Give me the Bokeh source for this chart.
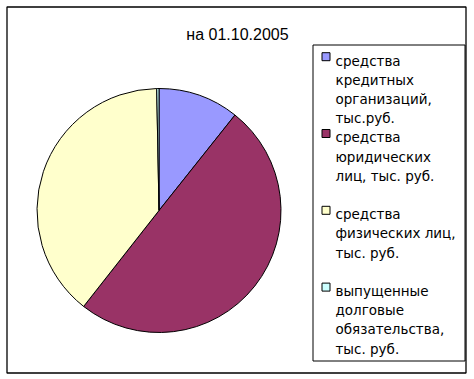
import numpy as np
from bokeh.plotting import figure
from bokeh.models import Range1d, ColumnDataSource
from bokeh.core.properties import value
from bokeh.embed import file_html
from bokeh.resources import INLINE

# ---- data ----
title = "на 01.10.2005"
categories = [
    "средства кредитных организаций, тыс.руб.",
    "средства юридических лиц, тыс. руб.",
    "средства физических лиц, тыс. руб.",
    "выпущенные долговые обязательства, тыс. руб.",
]
legend_lines = [
    ["средства", "кредитных", "организаций,", "тыс.руб."],
    ["средства", "юридических", "лиц, тыс. руб."],
    ["средства", "физических лиц,", "тыс. руб."],
    ["выпущенные", "долговые", "обязательства,", "тыс. руб."],
]
shares = [10.7, 49.9, 39.1, 0.3]
colors = ["#9999FF", "#993366", "#FFFFCC", "#CCFFFF"]

W, H = 474, 379

def Y(py):
    return H - py

p = figure(width=W, height=H, output_backend="svg", toolbar_location=None,
           x_range=Range1d(0, W), y_range=Range1d(0, H), min_border=0)
p.axis.visible = False
p.grid.visible = False
p.outline_line_color = None
p.background_fill_color = "white"
p.border_fill_color = "white"

# outer chart border
p.quad(left=[6.5], right=[465.5], top=[Y(6.5)], bottom=[Y(372.5)],
       fill_alpha=0, line_color="black", line_width=1.3)

# title
p.text(x=[237], y=[Y(33.5)], text=[title], text_font=value("Liberation Sans"),
       text_font_size="16px", text_align="center", text_baseline="alphabetic",
       text_color="black")

# pie (clockwise from 12 o'clock)
vals = np.array(shares, dtype=float)
frac = vals / vals.sum()
cum = np.concatenate([[0], np.cumsum(frac)])
start = np.pi / 2 - cum[:-1] * 2 * np.pi
end = np.pi / 2 - cum[1:] * 2 * np.pi
src = ColumnDataSource(dict(start=start, end=end, color=colors, cat=categories))
p.wedge(x=158.5, y=Y(210), radius=122, start_angle="start", end_angle="end",
        direction="clock", fill_color="color", line_color="black", line_width=1,
        source=src)

# legend box
p.quad(left=[312.5], right=[464.5], top=[Y(44.5)], bottom=[Y(360.5)],
       fill_color="white", line_color="black", line_width=1)

slot = 19.2
first_center = 55.7
sq_x, sq_y, tx_x, tx_y, tx = [], [], [], [], []
for k, lines in enumerate(legend_lines):
    c0 = first_center + k * 4 * slot
    sq_x.append(325.5)
    sq_y.append(Y(c0 + 0.5))
    for i, line in enumerate(lines):
        tx_x.append(335)
        tx_y.append(Y(c0 + i * slot + 4.3))
        tx.append(line)

p.rect(x=sq_x, y=sq_y, width=8, height=8, fill_color=colors,
       line_color="black", line_width=1)
p.text(x=tx_x, y=tx_y, text=tx, text_font=value("DejaVu Sans"),
       text_font_size="13.5px", text_align="left", text_baseline="alphabetic",
       text_color="black")

open("out.html", "w").write(file_html(p, INLINE))
